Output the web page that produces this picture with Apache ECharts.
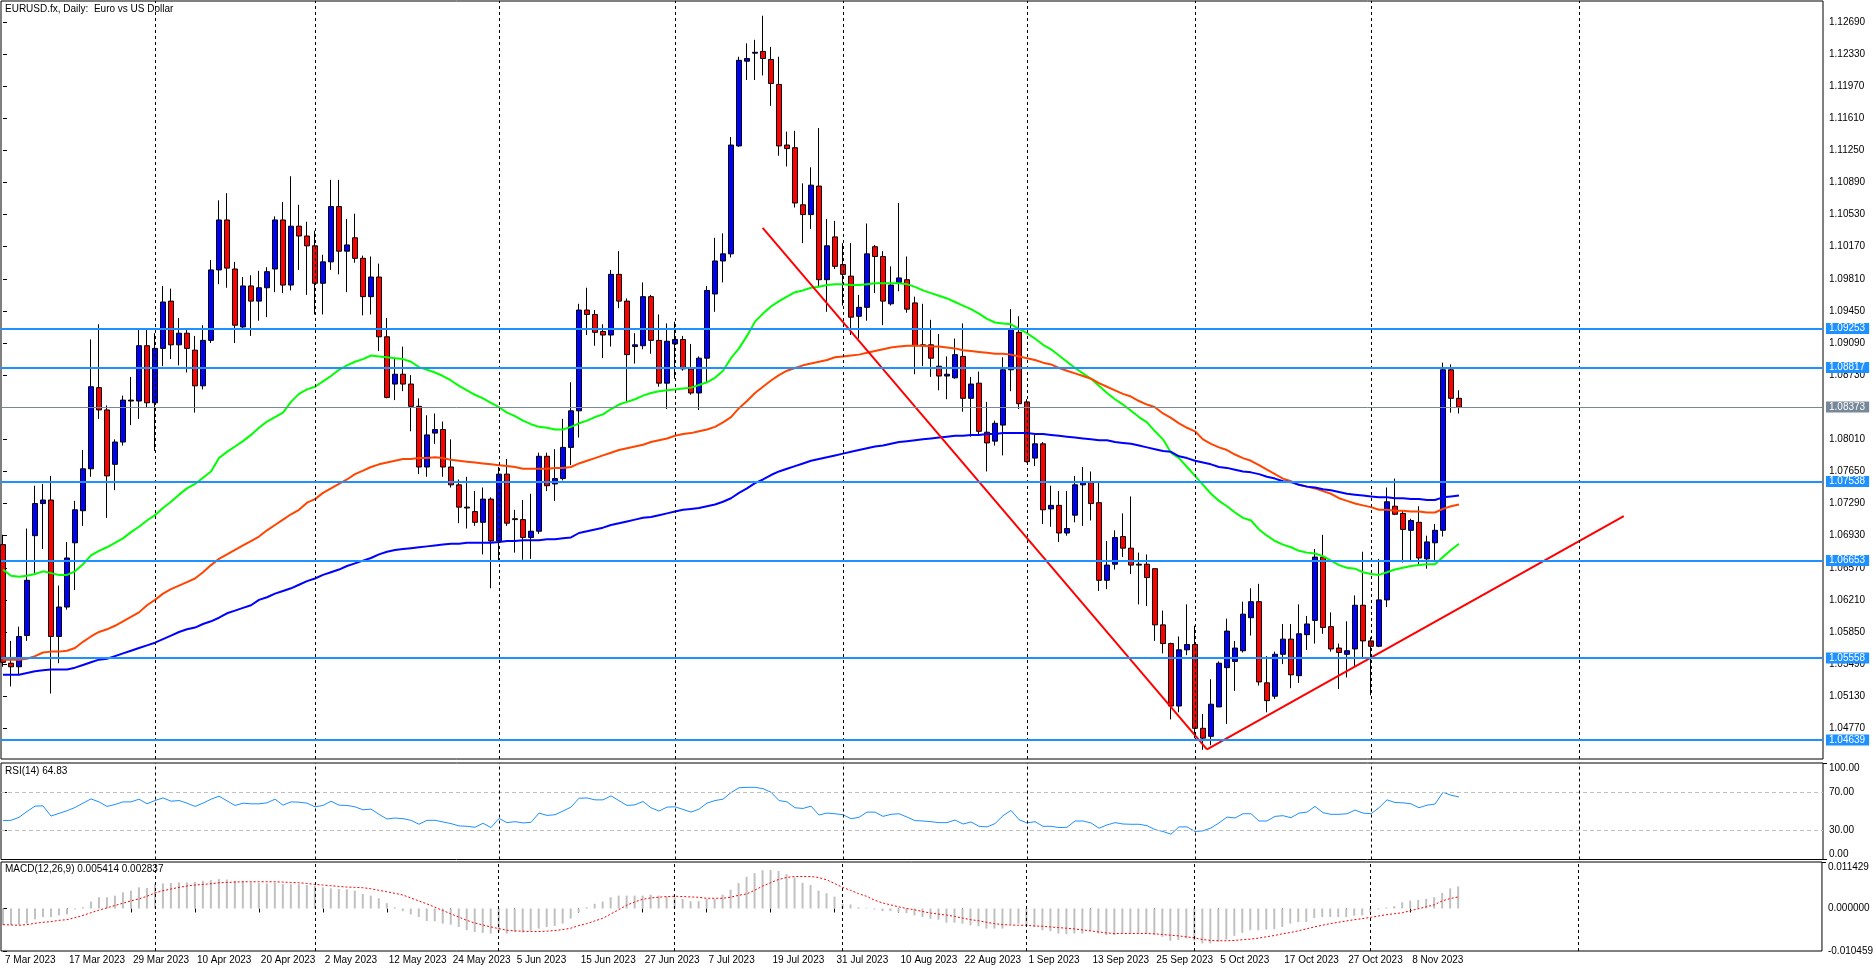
<!DOCTYPE html>
<html><head><meta charset="utf-8">
<script src="https://cdn.jsdelivr.net/npm/echarts@6/dist/echarts.min.js"></script>
<style>html,body{margin:0;padding:0;background:#fff;overflow:hidden}#c{width:1876px;height:972px}</style>
</head><body><div id="c"></div>
<script>
const tickLabels = ['7 Mar 2023','17 Mar 2023','29 Mar 2023','10 Apr 2023','20 Apr 2023','2 May 2023','12 May 2023','24 May 2023','5 Jun 2023','15 Jun 2023','27 Jun 2023','7 Jul 2023','19 Jul 2023','31 Jul 2023','10 Aug 2023','22 Aug 2023','1 Sep 2023','13 Sep 2023','25 Sep 2023','5 Oct 2023','17 Oct 2023','27 Oct 2023','8 Nov 2023'];
const tickBars = [0,8,16,24,32,40,48,56,64,72,80,88,96,104,112,120,128,136,144,152,160,168,176];
const priceTicks = [1.04770,1.05130,1.05490,1.05850,1.06210,1.06570,1.06930,1.07290,1.07650,1.08010,1.08370,1.08730,1.09090,1.09450,1.09810,1.10170,1.10530,1.10890,1.11250,1.11610,1.11970,1.12330,1.12690];
const rsiTicksMid = [30,70];
const rsiTickTop = [100];
const rsiTickBottom = [0];
const macdTickTop = [0.011429];
const macdTicksMid = [0,-0.010459];

const open = [1.0683,1.0550,1.0546,1.0581,1.0693,1.0729,1.0733,1.0580,1.0613,1.0685,
1.0721,1.0768,1.0859,1.0834,1.0773,1.0798,1.0845,1.0844,1.0906,1.0842,
1.0903,1.0956,1.0907,1.0920,1.0901,1.0861,1.0912,1.0991,1.1047,1.0992,
1.0927,1.0973,1.0956,1.0971,1.0992,1.1047,1.0974,1.1040,1.1029,1.1018,
1.0976,1.1000,1.1062,1.1012,1.1027,1.1004,1.0961,1.0983,1.0916,1.0863,
1.0874,1.0863,1.0838,1.0770,1.0808,1.0812,1.0770,1.0750,1.0725,1.0720,
1.0708,1.0734,1.0687,1.0762,1.0712,1.0711,1.0691,1.0698,1.0782,1.0751,
1.0757,1.0792,1.0833,1.0946,1.0941,1.0922,1.0918,1.0986,1.0956,1.0905,
1.0906,1.0961,1.0912,1.0864,1.0908,1.0913,1.0880,1.0853,1.0892,1.0964,
1.1001,1.1009,1.1130,1.1225,1.1234,1.1236,1.1227,1.1199,1.1131,1.1128,
1.1064,1.1053,1.1085,1.0980,1.1028,1.0997,1.0984,1.0939,1.0949,1.1017,
1.1006,1.0953,1.0977,1.0980,1.0954,1.0907,1.0907,1.0883,1.0872,1.0870,
1.0894,1.0847,1.0864,1.0809,1.0799,1.0817,1.0879,1.0921,1.0843,1.0780,
1.0796,1.0723,1.0727,1.0696,1.0716,1.0750,1.0753,1.0730,1.0643,1.0661,
1.0692,1.0679,1.0661,1.0661,1.0656,1.0593,1.0572,1.0502,1.0565,1.0571,
1.0477,1.0468,1.0501,1.0545,1.0552,1.0564,1.0601,1.0619,1.0528,1.0513,
1.0560,1.0577,1.0536,1.0582,1.0598,1.0669,1.0591,1.0567,1.0560,1.0566,
1.0615,1.0575,1.0569,1.0621,1.0726,1.0718,1.0699,1.0708,1.0667,1.0685,
1.0699,1.0879,1.0847];
const high = [1.0694,1.0575,1.0591,1.0701,1.0749,1.0751,1.0760,1.0637,1.0686,1.0732,
1.0789,1.0913,1.0930,1.0839,1.0801,1.0850,1.0871,1.0925,1.0925,1.0920,
1.0973,1.0970,1.0937,1.0924,1.0917,1.0929,1.1002,1.1069,1.1077,1.1000,
1.0983,1.0985,1.0990,1.0994,1.1051,1.1067,1.1096,1.1064,1.1045,1.1035,
1.1008,1.1092,1.1092,1.1048,1.1054,1.1007,1.1006,1.0998,1.0937,1.0891,
1.0905,1.0873,1.0847,1.0828,1.0830,1.0821,1.0801,1.0756,1.0759,1.0743,
1.0747,1.0736,1.0770,1.0779,1.0722,1.0733,1.0740,1.0786,1.0786,1.0790,
1.0824,1.0865,1.0953,1.0971,1.0946,1.0930,1.0991,1.1012,1.0959,1.0920,
1.0977,1.0963,1.0941,1.0931,1.0933,1.0917,1.0908,1.0894,1.0973,1.1027,
1.1032,1.1140,1.1230,1.1245,1.1249,1.1276,1.1241,1.1230,1.1146,1.1147,
1.1088,1.1106,1.1150,1.1048,1.1046,1.1021,1.1021,1.0963,1.1043,1.1019,
1.1012,1.0995,1.1066,1.1006,1.0961,1.0953,1.0935,1.0919,1.0894,1.0914,
1.0931,1.0871,1.0877,1.0843,1.0822,1.0893,1.0947,1.0939,1.0846,1.0806,
1.0798,1.0749,1.0743,1.0743,1.0760,1.0770,1.0765,1.0753,1.0687,1.0699,
1.0718,1.0737,1.0674,1.0672,1.0656,1.0609,1.0573,1.0580,1.0616,1.0592,
1.0493,1.0532,1.0552,1.0600,1.0575,1.0619,1.0634,1.0639,1.0558,1.0563,
1.0594,1.0594,1.0616,1.0603,1.0678,1.0694,1.0607,1.0572,1.0597,1.0626,
1.0675,1.0579,1.0667,1.0747,1.0757,1.0721,1.0712,1.0726,1.0693,1.0706,
1.0887,1.0885,1.0856];
const low = [1.0546,1.0524,1.0537,1.0575,1.0651,1.0678,1.0516,1.0550,1.0610,1.0632,
1.0704,1.0759,1.0824,1.0713,1.0744,1.0794,1.0817,1.0824,1.0837,1.0788,
1.0883,1.0891,1.0884,1.0876,1.0831,1.0857,1.0909,1.0975,1.0971,1.0909,
1.0924,1.0917,1.0934,1.0938,1.0966,1.0965,1.0968,1.0991,1.0963,1.0941,
1.0941,1.0991,1.0986,1.0966,1.0999,1.0940,1.0941,1.0900,1.0847,1.0845,
1.0855,1.0810,1.0762,1.0759,1.0796,1.0759,1.0747,1.0707,1.0701,1.0704,
1.0672,1.0634,1.0665,1.0704,1.0674,1.0666,1.0667,1.0695,1.0743,1.0732,
1.0755,1.0772,1.0803,1.0918,1.0906,1.0892,1.0905,1.0948,1.0844,1.0886,
1.0902,1.0897,1.0860,1.0835,1.0869,1.0878,1.0851,1.0834,1.0865,1.0944,
1.0977,1.1005,1.1129,1.1204,1.1204,1.1209,1.1175,1.1119,1.1107,1.1061,
1.1021,1.1037,1.0973,1.0944,1.0992,1.0951,1.0918,1.0914,1.0934,1.0965,
1.0929,1.0951,1.0967,1.0943,1.0874,1.0883,1.0871,1.0856,1.0846,1.0869,
1.0832,1.0804,1.0806,1.0765,1.0794,1.0783,1.0855,1.0835,1.0775,1.0771,
1.0706,1.0703,1.0686,1.0693,1.0708,1.0704,1.0710,1.0631,1.0633,1.0655,
1.0669,1.0650,1.0616,1.0614,1.0575,1.0561,1.0487,1.0495,1.0559,1.0466,
1.0453,1.0458,1.0501,1.0482,1.0519,1.0562,1.0581,1.0525,1.0495,1.0510,
1.0549,1.0522,1.0528,1.0565,1.0572,1.0583,1.0563,1.0521,1.0534,1.0547,
1.0557,1.0514,1.0568,1.0613,1.0716,1.0663,1.0665,1.0661,1.0656,1.0665,
1.0692,1.0831,1.0830];
const close = [1.0551,1.0546,1.0580,1.0643,1.0729,1.0733,1.0580,1.0613,1.0668,1.0722,
1.0768,1.0860,1.0834,1.0760,1.0798,1.0845,1.0844,1.0906,1.0842,1.0903,
1.0955,1.0907,1.0920,1.0903,1.0861,1.0912,1.0991,1.1047,1.0993,1.0929,
1.0973,1.0956,1.0971,1.0989,1.1047,1.0974,1.1040,1.1029,1.1018,1.0976,
1.1000,1.1062,1.1012,1.1019,1.1004,1.0961,1.0983,1.0916,1.0848,1.0874,
1.0863,1.0838,1.0770,1.0806,1.0812,1.0770,1.0750,1.0725,1.0724,1.0708,
1.0734,1.0687,1.0762,1.0707,1.0711,1.0691,1.0698,1.0782,1.0749,1.0757,
1.0792,1.0833,1.0946,1.0941,1.0921,1.0918,1.0986,1.0956,1.0896,1.0907,
1.0961,1.0912,1.0864,1.0911,1.0913,1.0880,1.0853,1.0892,1.0968,1.1001,
1.1009,1.1131,1.1226,1.1228,1.1235,1.1228,1.1200,1.1130,1.1127,1.1066,
1.1053,1.1086,1.0980,1.1018,1.0995,1.0986,1.0938,1.0949,1.1009,1.1006,
1.0956,1.0974,1.0982,1.0947,1.0906,1.0906,1.0892,1.0872,1.0874,1.0896,
1.0847,1.0863,1.0810,1.0797,1.0819,1.0879,1.0924,1.0841,1.0776,1.0796,
1.0722,1.0727,1.0696,1.0701,1.0750,1.0753,1.0729,1.0643,1.0660,1.0691,
1.0679,1.0660,1.0660,1.0646,1.0593,1.0572,1.0502,1.0565,1.0571,1.0477,
1.0466,1.0504,1.0550,1.0586,1.0567,1.0605,1.0619,1.0529,1.0508,1.0560,
1.0577,1.0537,1.0583,1.0594,1.0669,1.0590,1.0566,1.0562,1.0564,1.0615,
1.0575,1.0569,1.0621,1.0731,1.0717,1.0700,1.0710,1.0668,1.0686,1.0699,
1.0879,1.0847,1.0837];

const maGreen = [1.0655,1.0648,1.0647,1.0648,1.0650,1.0653,1.0651,1.0649,1.0649,1.0653,
1.0661,1.0671,1.0676,1.0680,1.0685,1.0690,1.0697,1.0703,1.0710,1.0716,
1.0724,1.0731,1.0739,1.0746,1.0751,1.0758,1.0765,1.0780,1.0787,1.0793,
1.0799,1.0806,1.0814,1.0821,1.0826,1.0831,1.0843,1.0852,1.0857,1.0860,
1.0866,1.0872,1.0879,1.0884,1.0888,1.0891,1.0895,1.0894,1.0893,1.0892,
1.0891,1.0888,1.0882,1.0879,1.0876,1.0872,1.0867,1.0861,1.0856,1.0851,
1.0847,1.0842,1.0837,1.0831,1.0827,1.0822,1.0818,1.0815,1.0814,1.0812,
1.0812,1.0815,1.0819,1.0822,1.0826,1.0829,1.0835,1.0840,1.0843,1.0846,
1.0850,1.0853,1.0855,1.0856,1.0857,1.0858,1.0859,1.0862,1.0865,1.0870,
1.0878,1.0892,1.0903,1.0917,1.0933,1.0942,1.0950,1.0956,1.0961,1.0966,
1.0968,1.0971,1.0972,1.0974,1.0975,1.0975,1.0974,1.0974,1.0975,1.0976,
1.0976,1.0976,1.0976,1.0975,1.0972,1.0968,1.0965,1.0962,1.0959,1.0955,
1.0951,1.0947,1.0942,1.0936,1.0932,1.0931,1.0930,1.0925,1.0920,1.0914,
1.0907,1.0902,1.0895,1.0888,1.0881,1.0875,1.0869,1.0861,1.0853,1.0846,
1.0840,1.0833,1.0826,1.0820,1.0810,1.0801,1.0786,1.0780,1.0770,1.0760,
1.0750,1.0740,1.0732,1.0726,1.0719,1.0713,1.0710,1.0700,1.0693,1.0687,
1.0683,1.0680,1.0676,1.0674,1.0673,1.0670,1.0665,1.0660,1.0657,1.0656,
1.0652,1.0650,1.0649,1.0652,1.0655,1.0657,1.0659,1.0660,1.0661,1.0661,
1.0669,1.0677,1.0684];
const maOrange = [1.0554,1.0554,1.0554,1.0555,1.0558,1.0562,1.0563,1.0563,1.0564,1.0567,
1.0574,1.0580,1.0585,1.0588,1.0592,1.0597,1.0602,1.0607,1.0615,1.0621,
1.0628,1.0633,1.0637,1.0641,1.0645,1.0652,1.0660,1.0667,1.0672,1.0677,
1.0682,1.0687,1.0692,1.0699,1.0705,1.0711,1.0717,1.0722,1.0730,1.0734,
1.0741,1.0746,1.0751,1.0756,1.0762,1.0766,1.0770,1.0773,1.0775,1.0777,
1.0779,1.0779,1.0780,1.0780,1.0781,1.0780,1.0778,1.0777,1.0776,1.0775,
1.0774,1.0773,1.0772,1.0771,1.0770,1.0768,1.0768,1.0768,1.0768,1.0769,
1.0769,1.0770,1.0774,1.0777,1.0780,1.0783,1.0786,1.0789,1.0791,1.0793,
1.0795,1.0798,1.0800,1.0802,1.0805,1.0807,1.0808,1.0810,1.0812,1.0815,
1.0820,1.0826,1.0836,1.0844,1.0853,1.0860,1.0867,1.0873,1.0878,1.0881,
1.0884,1.0886,1.0888,1.0890,1.0893,1.0894,1.0895,1.0896,1.0898,1.0900,
1.0902,1.0904,1.0905,1.0906,1.0906,1.0906,1.0905,1.0905,1.0904,1.0903,
1.0901,1.0900,1.0899,1.0898,1.0897,1.0897,1.0896,1.0894,1.0892,1.0890,
1.0887,1.0885,1.0881,1.0878,1.0875,1.0872,1.0869,1.0864,1.0860,1.0856,
1.0852,1.0849,1.0844,1.0840,1.0837,1.0830,1.0825,1.0819,1.0814,1.0810,
1.0801,1.0796,1.0792,1.0789,1.0784,1.0780,1.0777,1.0772,1.0767,1.0762,
1.0757,1.0754,1.0750,1.0748,1.0746,1.0743,1.0740,1.0735,1.0732,1.0729,
1.0727,1.0725,1.0722,1.0722,1.0721,1.0721,1.0720,1.0720,1.0719,1.0719,
1.0723,1.0726,1.0728];
const maBlue = [1.0537,1.0537,1.0537,1.0539,1.0541,1.0542,1.0543,1.0543,1.0543,1.0545,
1.0548,1.0551,1.0554,1.0555,1.0558,1.0561,1.0564,1.0567,1.0570,1.0573,
1.0577,1.0581,1.0585,1.0588,1.0590,1.0594,1.0597,1.0601,1.0606,1.0609,
1.0612,1.0615,1.0621,1.0624,1.0628,1.0631,1.0634,1.0638,1.0642,1.0645,
1.0649,1.0652,1.0655,1.0659,1.0662,1.0665,1.0668,1.0672,1.0675,1.0677,
1.0678,1.0679,1.0680,1.0681,1.0682,1.0683,1.0684,1.0684,1.0685,1.0685,
1.0685,1.0685,1.0686,1.0687,1.0687,1.0688,1.0688,1.0688,1.0689,1.0689,
1.0690,1.0691,1.0696,1.0698,1.0700,1.0702,1.0705,1.0707,1.0709,1.0711,
1.0713,1.0714,1.0716,1.0718,1.0720,1.0722,1.0723,1.0724,1.0726,1.0728,
1.0731,1.0735,1.0741,1.0746,1.0752,1.0756,1.0761,1.0765,1.0768,1.0771,
1.0774,1.0777,1.0779,1.0781,1.0783,1.0785,1.0787,1.0789,1.0791,1.0793,
1.0794,1.0796,1.0798,1.0799,1.0800,1.0801,1.0802,1.0803,1.0804,1.0805,
1.0805,1.0806,1.0806,1.0807,1.0807,1.0808,1.0808,1.0808,1.0808,1.0807,
1.0807,1.0806,1.0805,1.0804,1.0803,1.0802,1.0801,1.0800,1.0800,1.0798,
1.0797,1.0796,1.0794,1.0792,1.0790,1.0788,1.0787,1.0782,1.0780,1.0777,
1.0775,1.0773,1.0770,1.0769,1.0767,1.0765,1.0764,1.0762,1.0759,1.0757,
1.0754,1.0753,1.0750,1.0748,1.0747,1.0745,1.0744,1.0742,1.0740,1.0739,
1.0738,1.0737,1.0736,1.0736,1.0735,1.0735,1.0734,1.0734,1.0733,1.0733,
1.0736,1.0737,1.0738];

const rsi = [40.3,40.6,43.7,49.8,55.3,55.6,45.0,47.8,50.5,53.9,
58.4,62.8,59.7,55.0,57.0,59.7,59.7,62.5,57.7,61.1,
63.8,60.4,61.1,58.4,55.0,58.4,62.5,65.6,60.8,56.0,
58.4,57.7,57.7,58.7,62.5,56.3,59.7,59.4,58.4,54.6,
56.0,60.4,56.3,56.0,54.6,51.5,52.2,46.8,42.0,43.0,
42.3,40.6,36.5,40.6,40.6,38.9,37.2,34.8,34.4,33.4,
37.5,33.1,42.6,38.2,39.2,37.9,38.5,48.1,45.7,46.4,
50.2,54.3,63.5,63.8,61.8,61.8,65.9,61.0,56.0,56.7,
60.1,53.6,50.2,54.3,54.6,51.9,49.1,52.2,58.4,61.1,
62.5,69.3,74.4,74.8,74.8,73.4,69.7,61.1,59.7,53.6,
52.9,55.3,46.1,48.1,47.4,46.4,42.3,43.7,49.1,49.1,
44.7,46.8,47.4,44.0,40.3,39.9,39.2,38.2,38.2,40.9,
36.8,38.9,34.4,33.8,37.2,45.4,50.9,41.3,37.9,39.2,
34.4,34.4,33.1,33.4,39.9,39.9,37.9,32.4,35.8,38.2,
36.8,36.5,36.5,35.1,31.0,29.0,26.2,33.8,33.8,29.0,
29.7,32.7,37.9,44.0,43.0,47.4,47.4,39.9,39.9,44.7,
45.4,43.3,48.1,49.1,55.0,48.5,46.8,46.8,47.4,51.2,
48.1,47.4,53.6,61.8,59.1,58.7,57.7,53.6,56.3,57.4,
69.7,66.6,64.83];

const macdHist = [-0.00405,-0.00405,-0.00397,-0.00373,-0.00268,-0.00211,-0.00211,-0.00170,-0.00146,-0.00024,
0.00032,0.00170,0.00276,0.00276,0.00316,0.00397,0.00438,0.00519,0.00503,0.00600,
0.00616,0.00624,0.00640,0.00640,0.00657,0.00681,0.00697,0.00722,0.00713,0.00681,
0.00681,0.00640,0.00624,0.00616,0.00632,0.00600,0.00600,0.00600,0.00576,0.00559,
0.00519,0.00495,0.00478,0.00470,0.00438,0.00357,0.00316,0.00251,0.00130,0.00032,
-0.00065,-0.00146,-0.00211,-0.00308,-0.00316,-0.00373,-0.00397,-0.00454,-0.00535,-0.00576,
-0.00600,-0.00616,-0.00576,-0.00616,-0.00576,-0.00592,-0.00551,-0.00495,-0.00454,-0.00430,
-0.00373,-0.00251,-0.00089,0.00032,0.00114,0.00170,0.00276,0.00316,0.00316,0.00316,
0.00316,0.00340,0.00316,0.00292,0.00276,0.00235,0.00178,0.00178,0.00235,0.00235,
0.00340,0.00462,0.00624,0.00778,0.00867,0.00940,0.00949,0.00924,0.00843,0.00762,
0.00632,0.00576,0.00438,0.00373,0.00292,0.00113,0.00097,0.00032,0.00016,-0.00024,
-0.00065,-0.00065,-0.00089,-0.00113,-0.00170,-0.00211,-0.00251,-0.00276,-0.00349,-0.00349,
-0.00373,-0.00413,-0.00438,-0.00495,-0.00495,-0.00495,-0.00389,-0.00373,-0.00430,-0.00454,
-0.00535,-0.00559,-0.00616,-0.00632,-0.00616,-0.00616,-0.00559,-0.00616,-0.00657,-0.00657,
-0.00616,-0.00616,-0.00616,-0.00616,-0.00657,-0.00697,-0.00794,-0.00778,-0.00738,-0.00794,
-0.00859,-0.00859,-0.00819,-0.00762,-0.00673,-0.00600,-0.00535,-0.00535,-0.00519,-0.00511,
-0.00454,-0.00373,-0.00332,-0.00332,-0.00235,-0.00211,-0.00211,-0.00211,-0.00211,-0.00178,
-0.00170,-0.00089,-0.00024,0.00024,0.00057,0.00154,0.00195,0.00211,0.00235,0.00276,
0.00381,0.00495,0.005414];
const macdSignal = [-0.00397,-0.00405,-0.00413,-0.00397,-0.00365,-0.00340,-0.00324,-0.00292,-0.00276,-0.00227,
-0.00170,-0.00105,-0.00041,0.00016,0.00073,0.00130,0.00186,0.00235,0.00300,0.00381,
0.00438,0.00478,0.00519,0.00551,0.00576,0.00592,0.00608,0.00632,0.00640,0.00649,
0.00657,0.00657,0.00657,0.00657,0.00657,0.00649,0.00640,0.00632,0.00616,0.00592,
0.00576,0.00559,0.00543,0.00527,0.00519,0.00511,0.00486,0.00446,0.00413,0.00373,
0.00332,0.00259,0.00186,0.00114,0.00032,-0.00049,-0.00130,-0.00211,-0.00292,-0.00357,
-0.00405,-0.00454,-0.00495,-0.00535,-0.00551,-0.00559,-0.00568,-0.00568,-0.00559,-0.00543,
-0.00519,-0.00486,-0.00422,-0.00373,-0.00308,-0.00243,-0.00140,-0.00030,0.00080,0.00160,
0.00225,0.00259,0.00276,0.00292,0.00300,0.00292,0.00284,0.00276,0.00251,0.00251,
0.00251,0.00276,0.00324,0.00357,0.00446,0.00551,0.00632,0.00713,0.00762,0.00786,
0.00786,0.00786,0.00762,0.00705,0.00616,0.00519,0.00446,0.00365,0.00300,0.00203,
0.00138,0.00089,0.00041,0.00000,-0.00032,-0.00073,-0.00113,-0.00138,-0.00162,-0.00195,
-0.00235,-0.00276,-0.00300,-0.00340,-0.00373,-0.00397,-0.00405,-0.00413,-0.00413,-0.00430,
-0.00438,-0.00454,-0.00470,-0.00486,-0.00503,-0.00527,-0.00551,-0.00576,-0.00600,-0.00616,
-0.00616,-0.00616,-0.00616,-0.00616,-0.00624,-0.00640,-0.00657,-0.00673,-0.00697,-0.00722,
-0.00762,-0.00786,-0.00794,-0.00794,-0.00786,-0.00770,-0.00754,-0.00730,-0.00697,-0.00665,
-0.00624,-0.00592,-0.00551,-0.00503,-0.00454,-0.00413,-0.00373,-0.00340,-0.00308,-0.00276,
-0.00251,-0.00219,-0.00186,-0.00154,-0.00130,-0.00105,-0.00057,-0.00008,0.00041,0.00089,
0.00186,0.00243,0.002837];

const levelPrices = [1.09253,1.08817,1.07538,1.06653,1.05558,1.04639];
const lastPrice = 1.08373;
const gridLineBars = [19,39,62,84,105,128,149,171,197];
const trendDown = [[94.96,1.10382],[150.5,1.04535]];
const trendUp = [[150.5,1.04535],[202.6,1.0715]];
const rsiLevels = [30,70];

const FONT = '"Liberation Sans", Arial, sans-serif';
const X_MIN = -0.25, X_MAX = 227.5;
const GL = 1, GW = 1822;
const idx = a => a.map((v,i)=>[i,v]);
const candleData = open.map((o,i)=>[i,o,close[i],low[i],high[i]]);
const vGridMark = {silent:true, symbol:['none','none'], label:{show:false}, precision:3,
  lineStyle:{color:'#000', type:[3,3], width:1}, data: gridLineBars.map(b=>({xAxis:b}))};

const chart = echarts.init(document.getElementById('c'), null, {renderer:'canvas'});
const lbl = {color:'#000', fontSize:10, fontFamily:FONT};
const tick = vals => ({show:true, customValues:vals, length:4, lineStyle:{color:'#000'}});
function yAx(grid, min, max, vals, digits, vAlign){
  return {type:'value', gridIndex:grid, position:'right', min:min, max:max,
    axisLine:{show:false}, splitLine:{show:false}, axisTick:tick(vals),
    axisLabel:Object.assign({customValues:vals, margin:6, verticalAlign:vAlign, formatter:v=>v.toFixed(digits)}, lbl)};
}
const tagLabel = (txt,bg) => ({show:true, position:'end', distance:3, formatter:()=>txt, color:'#fff', backgroundColor:bg,
                 padding:[1,4,0,3], fontSize:10, fontFamily:FONT});
const option = {
  animation:false, backgroundColor:'#fff', textStyle:{fontFamily:FONT},
  title:[
    {text:'EURUSD.fx, Daily:  Euro vs US Dollar', left:5, top:4, padding:0, textStyle:{fontSize:10, fontWeight:'normal', color:'#000', fontFamily:FONT}},
    {text:'RSI(14) ' + rsi[rsi.length-1].toFixed(2), left:5, top:766, padding:0, textStyle:{fontSize:10, fontWeight:'normal', color:'#000', fontFamily:FONT}},
    {text:'MACD(12,26,9) ' + macdHist[macdHist.length-1].toFixed(6) + ' ' + macdSignal[macdSignal.length-1].toFixed(6), left:5, top:864, padding:0, textStyle:{fontSize:10, fontWeight:'normal', color:'#000', fontFamily:FONT}}
  ],
  grid:[
    {left:GL, top:1, width:GW, height:758, show:true, borderColor:'#000', borderWidth:1, backgroundColor:'#fff'},
    {left:GL, top:763, width:GW, height:96.5, show:true, borderColor:'#000', borderWidth:1, backgroundColor:'#fff'},
    {left:GL, top:862, width:GW, height:89, show:true, borderColor:'#000', borderWidth:1, backgroundColor:'#fff'}
  ],
  xAxis:[0,1,2].map(g=>({
    type:'value', gridIndex:g, min:X_MIN, max:X_MAX,
    axisLine:{show:false}, splitLine:{show:false},
    axisTick: g===2 ? tick(tickBars) : {show:false},
    axisLabel: g===2 ? Object.assign({show:true, customValues:tickBars, align:'left', margin:4, padding:[0,0,0,2],
       formatter:v=>{const i=tickBars.indexOf(Math.round(v)); return i>=0?tickLabels[i]:'';}}, lbl) : {show:false}
  })),
  yAxis:[
    yAx(0, 1.04426, 1.12925, priceTicks, 5, 'middle'),
    yAx(1, 0, 100, rsiTicksMid, 2, 'middle'),
    yAx(1, 0, 100, rsiTickTop, 2, 'top'),
    yAx(1, 0, 100, rsiTickBottom, 2, 'bottom'),
    yAx(2, -0.010459, 0.011429, macdTicksMid, 6, 'middle'),
    yAx(2, -0.010459, 0.011429, macdTickTop, 6, 'top')
  ],
  series:[
    {type:'candlestick', xAxisIndex:0, yAxisIndex:0, data:candleData, encode:{x:0, y:[1,2,3,4]},
     barWidth:5, z:2,
     itemStyle:{color:'#0000FF', color0:'#FF0000', borderColor:'#000', borderColor0:'#000', borderColorDoji:'#000', borderWidth:1},
     markLine:vGridMark},
    {type:'line', xAxisIndex:0, yAxisIndex:0, data:idx(maGreen), showSymbol:false, z:3, silent:true,
     lineStyle:{color:'#00FF00', width:2}},
    {type:'line', xAxisIndex:0, yAxisIndex:0, data:idx(maOrange), showSymbol:false, z:3, silent:true,
     lineStyle:{color:'#FF4500', width:2}},
    {type:'line', xAxisIndex:0, yAxisIndex:0, data:idx(maBlue), showSymbol:false, z:3, silent:true,
     lineStyle:{color:'#0000FF', width:2},
     markLine:{silent:true, symbol:['none','none'], precision:5,
       data: levelPrices.map(p=>({yAxis:p, lineStyle:{color:'#1E90FF', width:2, type:'solid'}, label:tagLabel(p.toFixed(5),'#1E90FF')}))
         .concat([{yAxis:lastPrice, lineStyle:{color:'#778899', width:1, type:'solid'}, label:tagLabel(lastPrice.toFixed(5),'#778899')}])}},
    {type:'line', xAxisIndex:0, yAxisIndex:0, data:trendDown, showSymbol:false, z:4, silent:true,
     lineStyle:{color:'#FF0000', width:2}},
    {type:'line', xAxisIndex:0, yAxisIndex:0, data:trendUp, showSymbol:false, z:4, silent:true,
     lineStyle:{color:'#FF0000', width:2}},
    {type:'line', xAxisIndex:1, yAxisIndex:1, data:idx(rsi), showSymbol:false, z:3, silent:true,
     lineStyle:{color:'#1E90FF', width:1},
     markLine:{silent:true, symbol:['none','none'], label:{show:false}, precision:3,
       data: rsiLevels.map(v=>({yAxis:v, lineStyle:{color:'#C0C0C0', type:[4,3], width:1}}))
         .concat(gridLineBars.map(b=>({xAxis:b, lineStyle:{color:'#000', type:[3,3], width:1}})))}},
    {type:'bar', xAxisIndex:2, yAxisIndex:4, data:idx(macdHist), barWidth:2, z:2, silent:true,
     itemStyle:{color:'#C0C0C0'}, markLine:vGridMark},
    {type:'line', xAxisIndex:2, yAxisIndex:4, data:idx(macdSignal), showSymbol:false, z:3, silent:true,
     lineStyle:{color:'#FF0000', width:1, type:[2,2]}}
  ]
};
chart.setOption(option);
</script></body></html>
